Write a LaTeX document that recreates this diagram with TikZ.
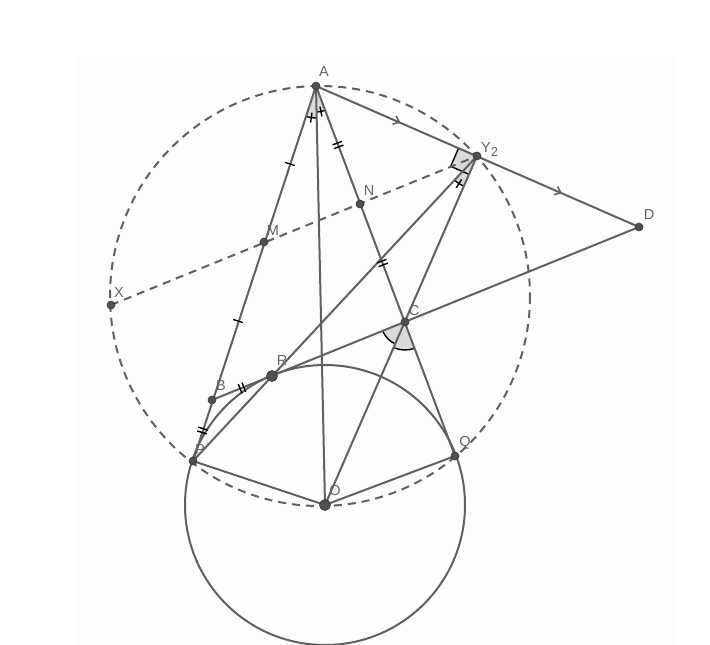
\documentclass[tikz,border=0pt]{standalone}
\usepackage{fontspec}
\setmainfont{Liberation Sans}
\usetikzlibrary{calc,angles}
\definecolor{ln}{RGB}{96,96,96}
\definecolor{ptc}{RGB}{80,80,80}
\definecolor{afill}{RGB}{218,218,218}
\definecolor{lbl}{RGB}{100,100,100}
\definecolor{bgc}{RGB}{253,253,253}
\tikzset{
  seg/.style={draw=ln,line width=2pt},
  dash seg/.style={draw=ln,line width=2pt,dash pattern=on 8pt off 6pt},
  tk/.style={draw=black,line width=1.4pt},
  pt/.style={circle,fill=ptc,draw=black!80,line width=0.6pt,inner sep=0pt,minimum size=8pt},
  bigpt/.style={circle,fill=ptc,draw=black!80,line width=0.6pt,inner sep=0pt,minimum size=11pt},
  lab/.style={text=lbl,font=\fontsize{14.5}{16}\selectfont,inner sep=0pt},
  ang/.style={draw=black,line width=1.4pt,fill=afill,angle radius=#1}
}
\newcommand\stick[2]{%
  \coordinate (tm) at ($(#1)!0.5!(#2)$);
  \draw[tk] ($(tm)!5pt!90:(#2)$) -- ($(tm)!5pt!-90:(#2)$);}
\newcommand\dtick[2]{%
  \coordinate (tm) at ($(#1)!0.5!(#2)$);
  \coordinate (ta) at ($(tm)!2pt!(#1)$);
  \coordinate (tb) at ($(tm)!2pt!(#2)$);
  \draw[tk] ($(ta)!5pt!90:(#2)$) -- ($(ta)!5pt!-90:(#2)$);
  \draw[tk] ($(tb)!5pt!90:(#2)$) -- ($(tb)!5pt!-90:(#2)$);}
\newcommand\chev[2]{%
  \coordinate (tm) at ($(#1)!0.5!(#2)$);
  \coordinate (tt) at ($(tm)!3pt!(#2)$);
  \draw[tk,draw=ln,line width=1.6pt] ($(tt)!7pt!40:(#1)$) -- (tt) -- ($(tt)!7pt!-40:(#1)$);}
\begin{document}
\begin{tikzpicture}[x=1pt,y=-1pt]
\useasboundingbox (0,0) rectangle (710,645);
\fill[bgc] (75,57) rectangle (676,645);
% points
\coordinate (A) at (316,86);
\coordinate (Y) at (477,156);
\coordinate (D) at (639,227);
\coordinate (N) at (360,204);
\coordinate (M) at (264,242);
\coordinate (X) at (111,305);
\coordinate (C) at (405,322);
\coordinate (R) at (272,376);
\coordinate (B) at (212,400);
\coordinate (P) at (193,461);
\coordinate (O) at (325,505);
\coordinate (Q) at (455,456);
\coordinate (K) at (320,296);
% angle marks
\pic[ang=32pt] {angle=P--A--O};
\pic[ang=26pt] {angle=O--A--Q};
\pic[ang=33pt] {angle=P--Y--O};
\pic[ang=24pt] {angle=R--C--O};
\pic[ang=28pt] {angle=O--C--Q};
\fill[afill] (Y) -- (458.66,148.03) -- (450.67,166.36) -- (469.01,174.34) -- cycle;
\draw[tk] (458.66,148.03) -- (450.67,166.36) -- (469.01,174.34);
% circles
\draw[dash seg] (K) circle[radius=210];
\draw[seg] (O) circle[radius=140];
% segments
\draw[seg] (A) -- (P);
\draw[seg] (A) -- (O);
\draw[seg] (A) -- (Q);
\draw[seg] (A) -- (D);
\draw[seg] (Y) -- (P);
\draw[seg] (Y) -- (O);
\draw[seg] (D) -- (B);
\draw[seg] (P) -- (O) -- (Q);
\draw[dash seg] (X) -- (Y);
% equal marks
\stick{A}{M}
\stick{M}{B}
\dtick{A}{N}
\dtick{N}{C}
\dtick{B}{R}
\dtick{P}{B}
\chev{A}{Y}
\chev{Y}{D}
% angle ticks
\draw[tk] (312.0,112.7) -- (310.6,122.6);
\draw[tk] (320.0,106.6) -- (321.9,116.4);
\draw[tk] (461.65,179.4) -- (456.2,187.8);
% dots
\foreach \p in {A,Y,D,N,M,X,C,B,P,Q} \node[pt] (d\p) at (\p) {};
\node[bigpt] (dR) at (R) {};
\node[bigpt] (dO) at (O) {};
% labels
\node[lab] (lA) at (324,72) {A};
\node[lab,anchor=west] (lY) at (481,150) {Y\raisebox{-4pt}{\fontsize{13}{13}\selectfont 2}};
\node[lab] (lD) at (649,215) {D};
\node[lab] (lN) at (369,191) {N};
\node[lab] (lM) at (273,231) {M};
\node[lab] (lX) at (119,293) {X};
\node[lab] (lC) at (414,311) {C};
\node[lab] (lR) at (282,361) {R};
\node[lab] (lB) at (221,386) {B};
\node[lab] (lP) at (200,450) {P};
\node[lab] (lO) at (335,491) {O};
\node[lab] (lQ) at (465,443) {Q};
\end{tikzpicture}
\end{document}
